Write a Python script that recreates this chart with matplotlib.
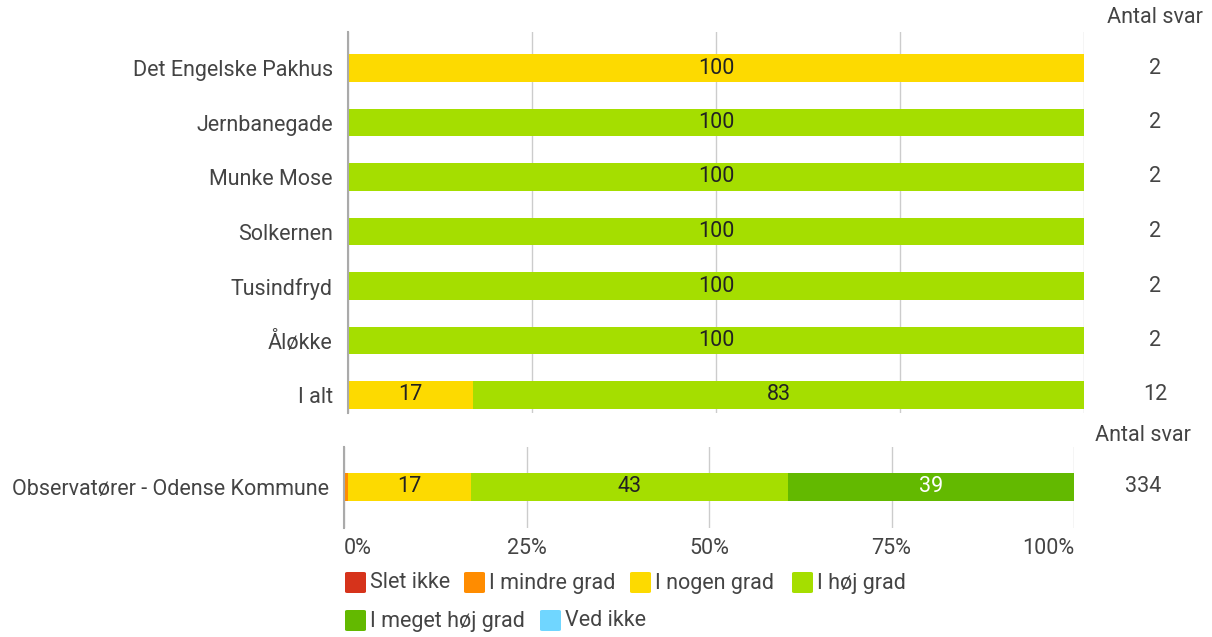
import numpy as np
import matplotlib.pyplot as plt
from matplotlib.patches import FancyBboxPatch

plt.rcParams['font.family'] = ['Roboto', 'DejaVu Sans']

# data
categories = ['Det Engelske Pakhus', 'Jernbanegade', 'Munke Mose', 'Solkernen',
              'Tusindfryd', 'Åløkke', 'I alt']
counts = [2, 2, 2, 2, 2, 2, 12]
levels = ['Slet ikke', 'I mindre grad', 'I nogen grad', 'I høj grad',
          'I meget høj grad', 'Ved ikke']
colors = ['#d6331b', '#ff8c00', '#fdda00', '#a5de00', '#63b900', '#70d6ff']
# percent per level for each category
top_vals = {
    'Slet ikke':        [0, 0, 0, 0, 0, 0, 0],
    'I mindre grad':    [0, 0, 0, 0, 0, 0, 0],
    'I nogen grad':     [100, 0, 0, 0, 0, 0, 17],
    'I høj grad':       [0, 100, 100, 100, 100, 100, 83],
    'I meget høj grad': [0, 0, 0, 0, 0, 0, 0],
    'Ved ikke':         [0, 0, 0, 0, 0, 0, 0],
}
obs_label = 'Observatører - Odense Kommune'
obs_vals = [0, 0.6, 16.8, 43.4, 39.2, 0]
obs_count = 334

txt = '#444444'
fs = 15.5
fig = plt.figure(figsize=(12.12, 6.37), dpi=100)

def setup(ax):
    ax.set_xlim(0, 100)
    for s in ['top', 'right', 'bottom']:
        ax.spines[s].set_visible(False)
    ax.spines['left'].set_color('#aaaaaa')
    ax.spines['left'].set_linewidth(1.5)
    ax.set_xticks([0, 25, 50, 75, 100])
    ax.grid(axis='x', color='#cccccc', linewidth=1)
    ax.set_axisbelow(True)
    ax.tick_params(length=0, labelsize=fs, labelcolor=txt, pad=11)

def label_bar(ax, y, left, w, color):
    if w >= 5:
        c = 'white' if color == '#63b900' else '#222222'
        ax.text(left + w / 2, y, '%d' % round(w), ha='center', va='center',
                fontsize=fs, color=c)

# top chart
ax1 = fig.add_axes([348 / 1212, 1 - 413 / 637, 736 / 1212, 381 / 637])
setup(ax1)
y = np.arange(len(categories))
left = np.zeros(len(categories))
for lev, col in zip(levels, colors):
    v = np.array(top_vals[lev], dtype=float)
    ax1.barh(y, v, left=left, height=0.51, color=col)
    for i in range(len(v)):
        label_bar(ax1, y[i], left[i], v[i], col)
    left += v
ax1.set_ylim(6 + 18 / 54.5, -36 / 54.5)
ax1.set_yticks(y)
ax1.set_yticklabels(categories)
ax1.set_xticklabels([])
ax1.text(1.0965, 1.037, 'Antal svar', transform=ax1.transAxes, ha='center',
         va='center', fontsize=fs, color=txt)
for i, c in enumerate(counts):
    ax1.text(1.0965, y[i], str(c), transform=ax1.get_yaxis_transform(),
             ha='center', va='center', fontsize=fs, color=txt)

# bottom chart
ax2 = fig.add_axes([344 / 1212, 1 - 528 / 637, 730 / 1212, 81 / 637])
setup(ax2)
l = 0
for v, col in zip(obs_vals, colors):
    ax2.barh(0, v, left=l, height=0.51, color=col)
    label_bar(ax2, 0, l, v, col)
    l += v
ax2.set_ylim(0.75, -0.73)
ax2.set_yticks([0])
ax2.set_yticklabels([obs_label])
ax2.set_xticklabels(['0%', '25%', '50%', '75%', '100%'])
ax2.tick_params(axis='x', pad=7)
xl = ax2.get_xticklabels()
xl[0].set_ha('left')
xl[-1].set_ha('right')
ax2.text(1.0945, -0.94, 'Antal svar', transform=ax2.get_yaxis_transform(),
         ha='center', va='center', fontsize=fs, color=txt)
ax2.text(1.0945, 0, str(obs_count), transform=ax2.get_yaxis_transform(),
         ha='center', va='center', fontsize=fs, color=txt)

# legend (flow layout)
leg_pos = [(345, 583), (464, 583), (630, 583), (792, 583), (345, 621), (540, 621)]
for (px, py), lev, col in zip(leg_pos, levels, colors):
    fig.patches.append(FancyBboxPatch(
        (px / 1212, 1 - (py + 10) / 637), 21 / 1212, 21 / 637,
        boxstyle='round,pad=0,rounding_size=0.002', transform=fig.transFigure,
        facecolor=col, edgecolor='none'))
    fig.text((px + 25) / 1212, 1 - py / 637, lev, ha='left', va='center',
             fontsize=fs, color=txt)

fig.savefig('out.png', dpi=100)
